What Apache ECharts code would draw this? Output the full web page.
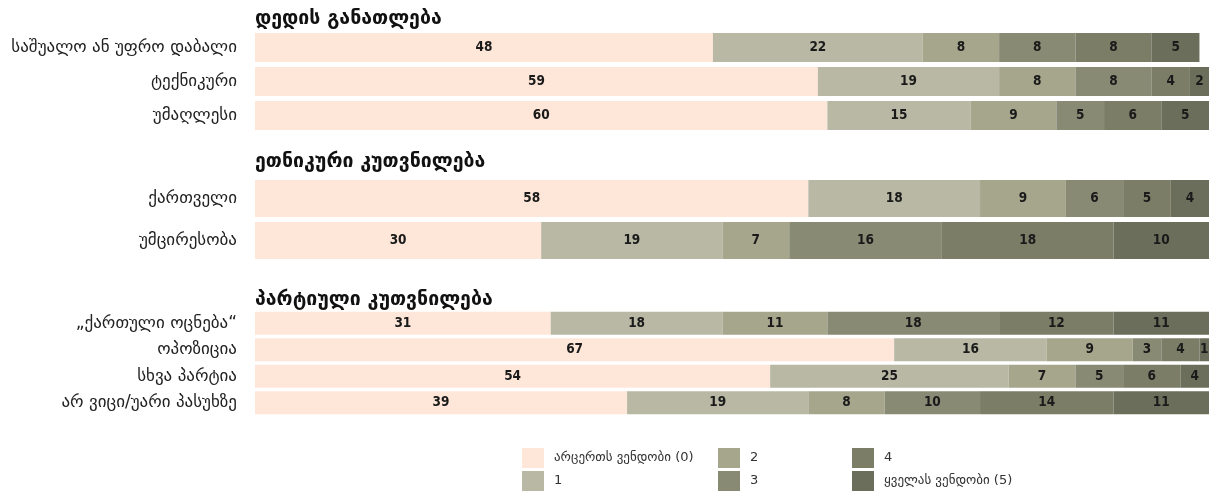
<!DOCTYPE html>
<html>
<head>
    <meta charset="utf-8">
    <title>ნდობა</title>
    <script src="https://cdn.jsdelivr.net/npm/echarts@6/dist/echarts.min.js"></script>
    <style>
        html, body { margin: 0; padding: 0; background: #fff; }
        #chart { width: 1209px; height: 494px; }
    </style>
</head>
<body>
<div id="chart"></div>
<script type="text/javascript">

    // ნდობის დონეები (ლეგენდა)
    var levels = ['არცერთს ვენდობი (0)', '1', '2', '3', '4', 'ყველას ვენდობი (5)'];
    var levelColors = ['#fee7d8', '#b8b8a4', '#a6a68c', '#888a74', '#7b7d67', '#6b6e5a'];

    // დედის განათლება
    var eduTitle = 'დედის განათლება';
    var eduCats = ['საშუალო ან უფრო დაბალი', 'ტექნიკური', 'უმაღლესი'];
    var eduVals = [
        [48, 22, 8, 8, 8, 5],
        [59, 19, 8, 8, 4, 2],
        [60, 15, 9, 5, 6, 5]
    ];

    // ეთნიკური კუთვნილება
    var ethTitle = 'ეთნიკური კუთვნილება';
    var ethCats = ['ქართველი', 'უმცირესობა'];
    var ethVals = [
        [58, 18, 9, 6, 5, 4],
        [30, 19, 7, 16, 18, 10]
    ];

    // პარტიული კუთვნილება
    var partyTitle = 'პარტიული კუთვნილება';
    var partyCats = ['„ქართული ოცნება“', 'ოპოზიცია', 'სხვა პარტია', 'არ ვიცი/უარი პასუხზე'];
    var partyVals = [
        [31, 18, 11, 18, 12, 11],
        [67, 16, 9, 3, 4, 1],
        [54, 25, 7, 5, 6, 4],
        [39, 19, 8, 10, 14, 11]
    ];

    var groups = [
        {title: eduTitle, cats: eduCats, vals: eduVals, top: 30.5, height: 102, barWidth: 29, titleTop: 9},
        {title: ethTitle, cats: ethCats, vals: ethVals, top: 177.5, height: 84, barWidth: 37, titleTop: 152},
        {title: partyTitle, cats: partyCats, vals: partyVals, top: 310, height: 106, barWidth: 23, titleTop: 290}
    ];

    var labelFont = "'DejaVu Sans Condensed', 'DejaVu Sans', sans-serif";

    var grids = [], xAxes = [], yAxes = [], titles = [], series = [];
    for (var g = 0; g < groups.length; g++) {
        var grp = groups[g];
        grids.push({left: 255, right: 0, top: grp.top, height: grp.height});
        xAxes.push({
            gridIndex: g, type: 'value', min: 0, max: 100, show: false
        });
        yAxes.push({
            gridIndex: g, type: 'category', data: grp.cats, inverse: true,
            axisLine: {show: false}, axisTick: {show: false},
            axisLabel: {
                margin: 18, fontSize: 17, color: '#222',
                fontFamily: "'DejaVu Sans', sans-serif"
            }
        });
        titles.push({
            text: grp.title, left: 250, top: grp.titleTop, padding: [0, 5],
            textStyle: {fontSize: 19.5, fontWeight: 'bold', color: '#111', fontFamily: "'DejaVu Sans', sans-serif"}
        });
        for (var k = 0; k < levels.length; k++) {
            var data = [];
            for (var r = 0; r < grp.vals.length; r++) {
                data.push(grp.vals[r][k]);
            }
            series.push({
                name: levels[k],
                type: 'bar',
                stack: 'g' + g,
                xAxisIndex: g,
                yAxisIndex: g,
                barWidth: grp.barWidth,
                itemStyle: {color: levelColors[k]},
                label: {
                    show: true, position: 'inside', fontSize: 13.5, fontWeight: 'bold',
                    color: '#1a1a1a', fontFamily: labelFont
                },
                data: data
            });
        }
    }

    // ლეგენდა სამ სვეტად
    var legendCols = [[levels[0], levels[1]], [levels[2], levels[3]], [levels[4], levels[5]]];
    var legendLeft = [522, 718, 852];
    var legends = [];
    for (var c = 0; c < legendCols.length; c++) {
        legends.push({
            data: legendCols[c], orient: 'vertical', left: legendLeft[c], top: 448,
            padding: 0, itemWidth: 22, itemHeight: 20, itemGap: 3, icon: 'rect',
            selectedMode: false,
            textStyle: {fontSize: 13, color: '#333', padding: [0, 0, 0, 5], fontFamily: "'DejaVu Sans', sans-serif"}
        });
    }

    var chart = echarts.init(document.getElementById('chart'));
    chart.setOption({
        animation: false,
        title: titles,
        legend: legends,
        grid: grids,
        xAxis: xAxes,
        yAxis: yAxes,
        series: series
    });

</script>
</body>
</html>
